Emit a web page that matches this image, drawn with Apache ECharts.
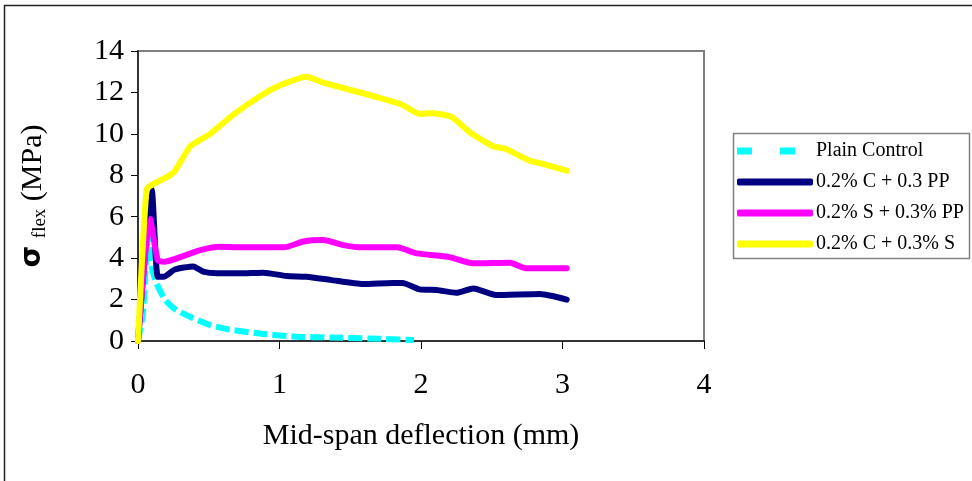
<!DOCTYPE html>
<html>
<head>
<meta charset="utf-8">
<script src="https://cdn.jsdelivr.net/npm/echarts@6/dist/echarts.min.js"></script>
<style>
html,body{margin:0;padding:0;background:#fff;}
#chart{width:972px;height:481px;}
</style>
</head>
<body>
<div id="chart"></div>
<script>
const seriesNames = ['Plain Control', '0.2% C + 0.3 PP', '0.2% S + 0.3% PP', '0.2% C + 0.3% S'];
const xTicks = [0, 1, 2, 3, 4];
const yTicks = [0, 2, 4, 6, 8, 10, 12, 14];

const plainX = [0, 0.035, 0.07, 0.10, 0.13, 0.19, 0.27, 0.39, 0.51, 0.65, 0.885, 1.12, 1.36, 1.64, 1.95];
const plainY = [0, 1.35, 5.0, 3.5, 2.8, 2.0, 1.5, 1.1, 0.77, 0.55, 0.34, 0.21, 0.17, 0.12, 0.05];

const cppX = [0, 0.097, 0.14, 0.18, 0.26, 0.39, 0.46, 0.56, 0.72, 0.885, 1.05, 1.19, 1.36, 1.59, 1.80, 1.87, 1.99, 2.11, 2.25, 2.37, 2.53, 2.84, 2.93, 3.03];
const cppY = [0, 7.3, 3.1, 3.1, 3.45, 3.6, 3.35, 3.27, 3.27, 3.3, 3.14, 3.1, 2.95, 2.75, 2.8, 2.8, 2.49, 2.46, 2.33, 2.54, 2.22, 2.27, 2.17, 2.0];

const sppX = [0, 0.085, 0.14, 0.19, 0.34, 0.44, 0.58, 0.72, 1.03, 1.17, 1.31, 1.45, 1.59, 1.83, 1.97, 2.2, 2.37, 2.63, 2.74, 3.03];
const sppY = [0, 5.9, 3.9, 3.83, 4.15, 4.39, 4.55, 4.52, 4.52, 4.8, 4.87, 4.63, 4.52, 4.52, 4.23, 4.05, 3.75, 3.78, 3.51, 3.51];

const csX = [0, 0.06, 0.10, 0.20, 0.26, 0.37, 0.51, 0.65, 0.77, 0.93, 1.06, 1.19, 1.31, 1.59, 1.80, 1.87, 1.99, 2.08, 2.22, 2.34, 2.51, 2.60, 2.77, 2.86, 3.03];
const csY = [0, 7.3, 7.55, 7.9, 8.2, 9.4, 10.0, 10.8, 11.4, 12.1, 12.5, 12.76, 12.47, 11.96, 11.56, 11.4, 10.96, 11.0, 10.8, 10.1, 9.4, 9.27, 8.7, 8.55, 8.22];

function zip(xs, ys) { return xs.map((x, i) => [x, ys[i]]); }

const serif = '"Liberation Serif", "Times New Roman", serif';
const colors = ['#00FFFF', '#000080', '#FF00FF', '#FFFF00'];
const datasets = [zip(plainX, plainY), zip(cppX, cppY), zip(sppX, sppY), zip(csX, csY)];

const chart = echarts.init(document.getElementById('chart'), null, {renderer: 'canvas'});
const option = {
  animation: false,
  backgroundColor: '#fff',
  grid: {left: 138, top: 51, right: 268, bottom: 140, show: true, borderColor: '#808080', borderWidth: 2, backgroundColor: 'transparent'},
  graphic: [
    {type: 'polyline', shape: {points: [[4.5, 490], [4.5, 5.5], [980, 5.5]]}, style: {stroke: '#222', lineWidth: 1.5, fill: null}, silent: true},
    {type: 'rect', shape: {x: 733.5, y: 133.5, width: 236, height: 125}, style: {stroke: '#808080', lineWidth: 1.5, fill: '#fff'}, z: 0, silent: true}
  ],
  legend: {
    orient: 'vertical', left: 737, top: 140, itemWidth: 76, itemHeight: 7, itemGap: 9, padding: 0,
    textStyle: {fontFamily: serif, fontSize: 20, color: '#000', padding: [0, 0, 0, -2], lineHeight: 22},
    data: [
      {name: seriesNames[0], icon: 'path://M0,0h15v7h-15z M43,0h15v7h-15z M76,0L76,7'},
      {name: seriesNames[1], icon: 'roundRect'},
      {name: seriesNames[2], icon: 'roundRect'},
      {name: seriesNames[3], icon: 'roundRect'}
    ],
    z: 5
  },
  xAxis: {
    type: 'value', min: xTicks[0], max: xTicks[xTicks.length - 1], interval: 1,
    name: 'Mid-span deflection (mm)', nameLocation: 'middle', nameGap: 80,
    nameTextStyle: {fontFamily: serif, fontSize: 30, color: '#000'},
    axisLine: {show: true, onZero: false, lineStyle: {color: '#333', width: 2}},
    axisTick: {show: true, inside: false, length: 8, lineStyle: {color: '#000', width: 1}},
    axisLabel: {fontFamily: serif, fontSize: 30, color: '#000', margin: 29},
    splitLine: {show: false}
  },
  yAxis: {
    type: 'value', min: yTicks[0], max: yTicks[yTicks.length - 1], interval: 2,
    name: '{s|σ} {sub|flex} {n|(MPa)}', nameLocation: 'middle', nameGap: 88, nameRotate: 90,
    nameTextStyle: {
      fontFamily: serif, fontSize: 30, color: '#000',
      rich: {
        s: {fontFamily: '"DejaVu Sans", sans-serif', fontSize: 28, fontWeight: 'bold', color: '#000', lineHeight: 34},
        sub: {fontFamily: serif, fontSize: 19, color: '#000', verticalAlign: 'bottom', lineHeight: 28},
        n: {fontFamily: serif, fontSize: 30, color: '#000', lineHeight: 34}
      }
    },
    axisLine: {show: true, onZero: false, lineStyle: {color: '#333', width: 2}},
    axisTick: {show: true, inside: false, length: 7, lineStyle: {color: '#000', width: 1}},
    axisLabel: {fontFamily: serif, fontSize: 30, color: '#000', margin: 14},
    splitLine: {show: false}
  },
  series: seriesNames.map((name, i) => ({
    name: name, type: 'line', data: datasets[i], symbol: 'none', smooth: 0.2,
    color: colors[i],
    lineStyle: {color: colors[i], width: 6, type: i === 0 ? [14, 5] : 'solid', cap: i === 0 ? 'butt' : 'round', join: 'round'},
    z: 2 + i
  }))
};
chart.setOption(option);
</script>
</body>
</html>
